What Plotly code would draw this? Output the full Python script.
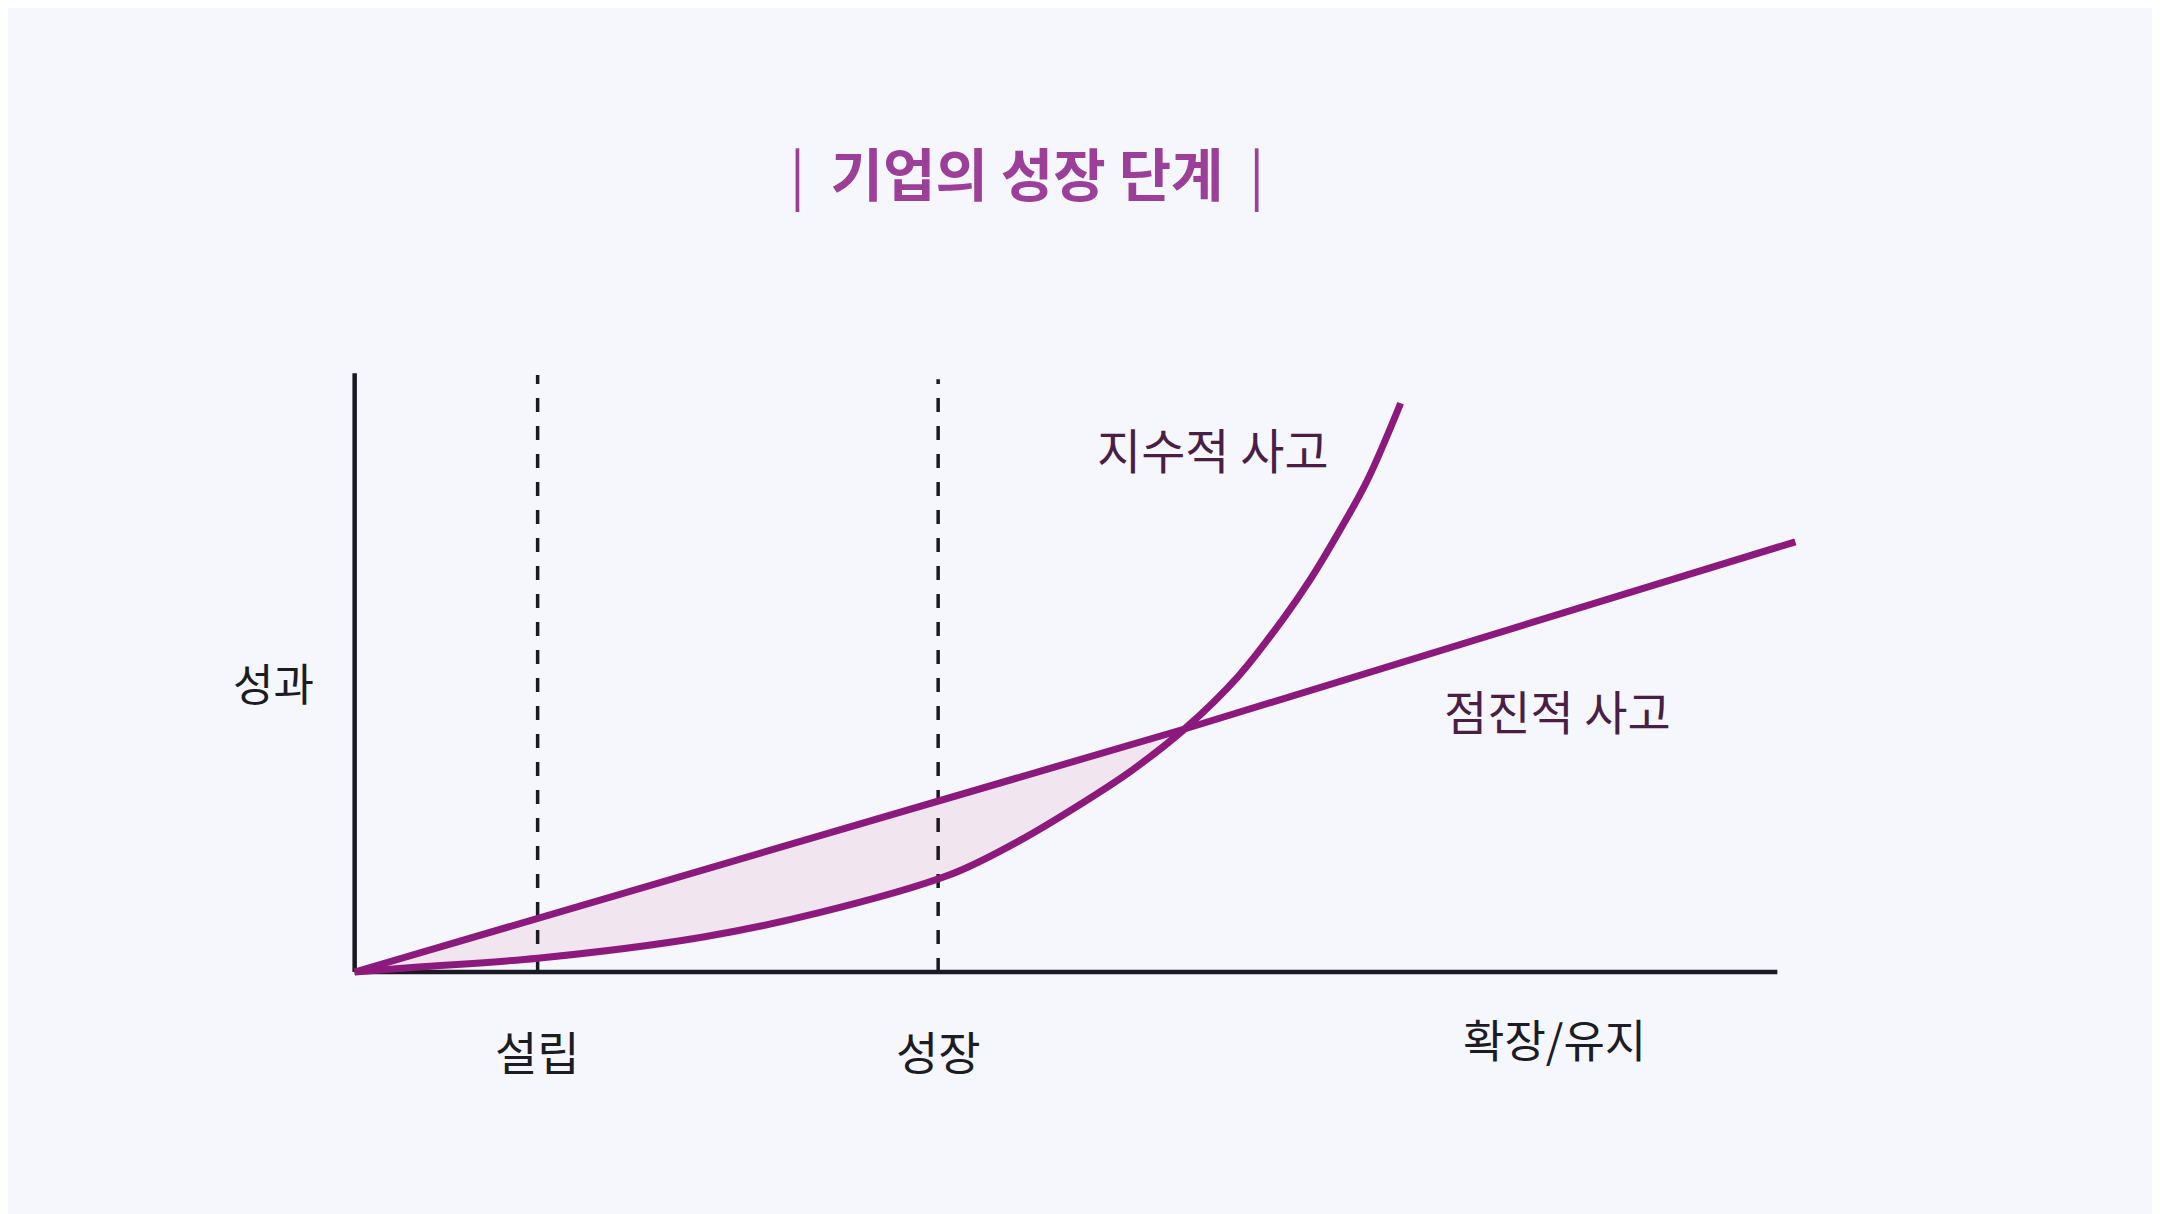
import plotly.graph_objects as go

# values (x: time, y: performance)
exp_x = [0, 0.42, 1.27, 2.41, 3.21, 4.13, 4.60, 5.06, 5.40, 5.76, 6.13, 6.44, 6.63, 6.84, 7.03, 7.26]
exp_y = [0, 0.08, 0.23, 0.58, 0.98, 1.62, 2.17, 2.83, 3.37, 4.05, 4.92, 5.87, 6.53, 7.37, 8.20, 9.48]
lin_x = [0, 5.76, 10]
lin_y = [0, 4.05, 7.17]
cross_idx = 9  # where the two lines meet

stage_names = ["설립", "성장", "확장/유지"]
stage_x = [1.27, 4.05, 8.33]
divider_top = [9.95, 9.88]

axis_x_end = 9.875
axis_y_end = 9.98

series_names = ["지수적 사고", "점진적 사고"]
title_text = "|  <b>기업의 성장 단계</b>  |"
y_label = "성과"

LINE = "#8c1a7c"
BG = "#f6f7fc"
FONT = "Noto Sans CJK KR"

fig = go.Figure()

# shaded gap between the two ways of thinking
fig.add_trace(go.Scatter(x=lin_x[:2], y=lin_y[:2], mode="lines",
                         line=dict(width=0), hoverinfo="skip"))
fig.add_trace(go.Scatter(x=exp_x[:cross_idx + 1], y=exp_y[:cross_idx + 1], mode="lines",
                         line=dict(width=0, shape="spline"), fill="tonexty",
                         fillcolor="#f1e6ef", hoverinfo="skip"))

# stage dividers
for sx, top in zip(stage_x[:2], divider_top):
    fig.add_trace(go.Scatter(x=[sx, sx], y=[0, top], mode="lines",
                             line=dict(color="#1a1a22", width=3.5, dash="14px,14px"),
                             hoverinfo="skip"))

# axes
fig.add_trace(go.Scatter(x=[0, 0], y=[0, axis_y_end], mode="lines",
                         line=dict(color="#1a1a24", width=4.5), hoverinfo="skip"))
fig.add_trace(go.Scatter(x=[0, axis_x_end], y=[0, 0], mode="lines",
                         line=dict(color="#1a1a24", width=4.5), hoverinfo="skip"))

# curves
fig.add_trace(go.Scatter(x=lin_x, y=lin_y, mode="lines",
                         line=dict(color=LINE, width=7), name=series_names[1]))
fig.add_trace(go.Scatter(x=exp_x, y=exp_y, mode="lines",
                         line=dict(color=LINE, width=7, shape="spline"), name=series_names[0]))

ann = [
    dict(x=5.96, y=8.73, text=series_names[0], color="#4a1f46", size=48),
    dict(x=8.35, y=4.37, text=series_names[1], color="#4a1f46", size=47),
    dict(x=-0.56, y=4.83, text=y_label, color="#1c1c24", size=44),
    dict(x=stage_x[0], y=-1.3, text=stage_names[0], color="#1c1c24", size=46),
    dict(x=stage_x[1], y=-1.3, text=stage_names[1], color="#1c1c24", size=46),
    dict(x=stage_x[2], y=-1.1, text=stage_names[2], color="#1c1c24", size=45),
]
for a in ann:
    fig.add_annotation(x=a["x"], y=a["y"], text=a["text"], showarrow=False,
                       xanchor="center", yanchor="middle",
                       font=dict(family=FONT, size=a["size"], color=a["color"]))

fig.update_layout(
    width=2160, height=1214,
    paper_bgcolor=BG, plot_bgcolor=BG,
    showlegend=False,
    margin=dict(l=217.4, r=315.4, t=340, b=154),
    title=dict(text=title_text, x=0.4718, y=0.8616, xref="container", yref="container",
               xanchor="center", yanchor="middle",
               font=dict(family=FONT, size=57, color="#9b3f98")),
    xaxis=dict(range=[-0.9, 10.4], visible=False, fixedrange=True),
    yaxis=dict(range=[-1.6, 10.4], visible=False, fixedrange=True),
)

fig.write_html("out.html")
